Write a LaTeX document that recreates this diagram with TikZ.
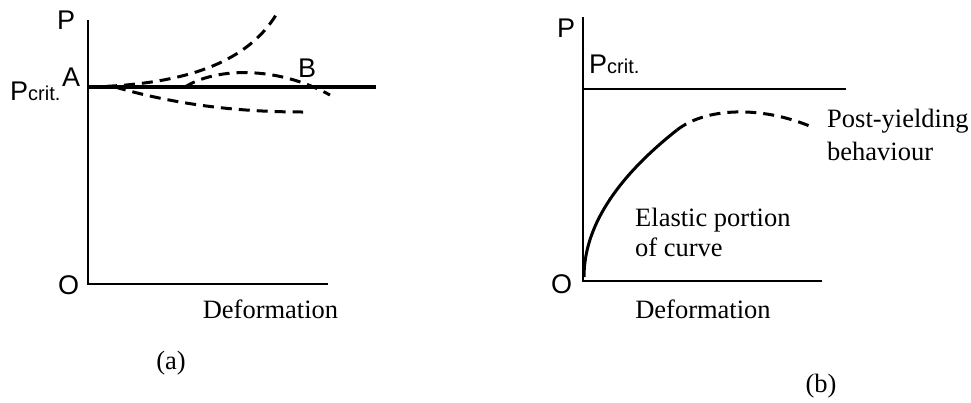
\documentclass[tikz,border=0pt]{standalone}
\usepackage{fontspec}
\setmainfont{Liberation Serif}
\newfontfamily\labelsans{Liberation Sans}
\begin{document}
\begin{tikzpicture}[x=1pt,y=-1pt,
  axisline/.style={line width=2pt},
  critline/.style={line width=3.5pt},
  dashcurve/.style={line width=3pt, dash pattern=on 11pt off 7pt},
  solidcurve/.style={line width=3pt},
  sanslbl/.style={inner sep=0pt, anchor=base west, font=\labelsans\fontsize{27}{31}\selectfont},
  seriflbl/.style={inner sep=0pt, anchor=base west, font=\fontsize{26.5}{31}\selectfont},
  panelcap/.style={inner sep=0pt, font=\fontsize{26.5}{31}\selectfont}]
\useasboundingbox (0,0) rectangle (971,402);
% ---------- panel (a) ----------
\coordinate (aTop) at (88,20);
\coordinate (aO) at (88,284);
\coordinate (aX) at (328,284);
\coordinate (aA) at (88,87);
\coordinate (aCritEnd) at (376,87);
\draw[axisline] (aTop) -- (aO) -- (aX);
\draw[critline] (aA) -- (aCritEnd);
\coordinate (upEnd) at (276,15);
\coordinate (midStart) at (185,87);
\coordinate (midEnd) at (330,95);
\coordinate (lowStart) at (115,87);
\coordinate (lowEnd) at (303,112);
\draw[dashcurve] (aA) .. controls (180,85) and (245,65) .. (upEnd);
\draw[dashcurve] (midStart) .. controls (215,68) and (275,65) .. (midEnd);
\draw[dashcurve] (lowStart) .. controls (160,100) and (220,112) .. (lowEnd);
\node[sanslbl] (aP) at (57,29) {P};
\node[sanslbl] (aPcrit) at (10,100) {P{\fontsize{20}{24}\selectfont crit.}};
\node[sanslbl] (lblA) at (62,86) {A};
\node[sanslbl] (lblB) at (298,77) {B};
\node[sanslbl] (aOl) at (58,294) {O};
\node[seriflbl, anchor=base] (aDef) at (270.5,318) {Deformation};
\node[panelcap] (capa) at (171,363) {(a)};
% ---------- panel (b) ----------
\coordinate (bTop) at (583,17);
\coordinate (bO) at (583,281);
\coordinate (bX) at (822,281);
\coordinate (bC) at (583,89);
\coordinate (bCritEnd) at (846,89);
\draw[axisline] (bTop) -- (bO) -- (bX);
\draw[axisline] (bC) -- (bCritEnd);
\coordinate (eStart) at (584,277);
\coordinate (eEnd) at (677,130);
\coordinate (pEnd) at (812,127);
\draw[solidcurve] (eStart) .. controls (584,228) and (615,179) .. (eEnd);
\draw[dashcurve] (eEnd) .. controls (705,108) and (760,105) .. (pEnd);
\node[sanslbl] (bP) at (557,37) {P};
\node[sanslbl] (bPcrit) at (589,73) {P{\fontsize{20}{24}\selectfont crit.}};
\node[sanslbl] (bOl) at (551,293) {O};
\node[seriflbl] (post1) at (827,127) {Post-yielding};
\node[seriflbl] (post2) at (827,160) {behaviour};
\node[seriflbl] (el1) at (635,226) {Elastic portion};
\node[seriflbl] (el2) at (635,256) {of curve};
\node[seriflbl, anchor=base] (bDef) at (703,318) {Deformation};
\node[panelcap] (capb) at (821,386) {(b)};
\end{tikzpicture}
\end{document}
